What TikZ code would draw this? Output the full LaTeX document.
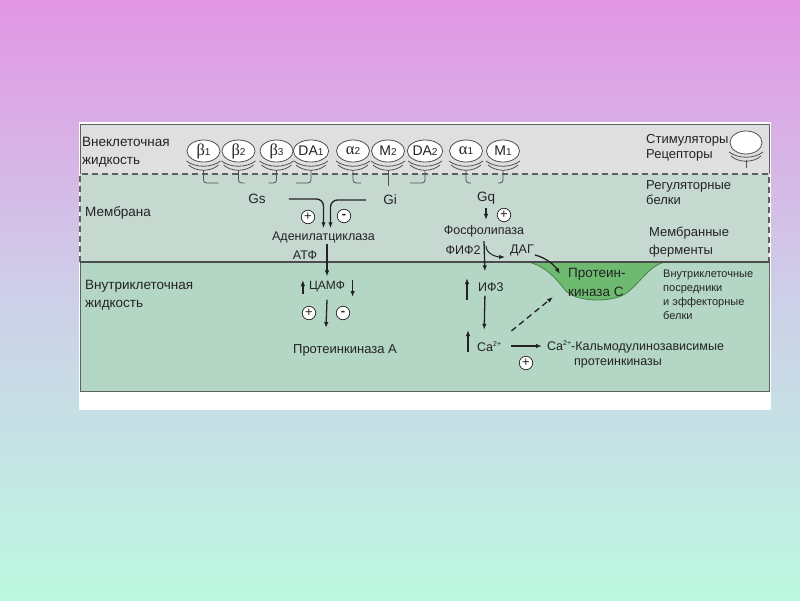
\documentclass[tikz,border=0pt]{standalone}
\usepackage{fontspec}
\setmainfont{Liberation Sans}
\newfontfamily\grk{Liberation Serif}
\usetikzlibrary{arrows.meta,positioning,shapes.geometric,calc}

\definecolor{bgtop}{RGB}{226,150,228}
\definecolor{bgmid}{RGB}{205,208,232}
\definecolor{bgbot}{RGB}{188,248,224}
\definecolor{band}{RGB}{223,223,223}
\definecolor{membr}{RGB}{198,217,208}
\definecolor{intra}{RGB}{180,214,196}
\definecolor{frame}{RGB}{95,95,95}
\definecolor{recline}{RGB}{80,80,80}
\definecolor{txt}{RGB}{35,35,35}
\definecolor{pkcgreen}{RGB}{110,186,112}
\definecolor{pkcline}{RGB}{70,135,72}

\pgfdeclareverticalshading{bgshade}{100bp}{color(0bp)=(bgbot); color(25bp)=(bgbot); color(50bp)=(bgmid); color(75bp)=(bgtop); color(100bp)=(bgtop)}

% receptor labels: big letter, small index
\newcommand{\grsub}[2]{{\grk\fontsize{16.5}{16}\selectfont #1}{\fontsize{10}{10}\selectfont #2}}
\newcommand{\lasub}[2]{{\fontsize{14}{14}\selectfont #1}{\fontsize{10}{10}\selectfont #2}}

\begin{document}
\begin{tikzpicture}[x=1pt, y=-1pt,
  lbl/.style={inner sep=0pt, align=left, anchor=west, text=txt, font=\fontsize{13.5}{18}\selectfont},
  inlbl/.style={inner sep=1pt, text=txt, font=\fontsize{12.5}{15}\selectfont},
  rec/.style={ellipse, draw=recline, fill=white, line width=0.8pt, minimum width=33pt, minimum height=22pt, inner sep=0pt, text=txt},
  cup/.style={draw=recline, line width=0.8pt},
  sign/.style={circle, draw=txt, fill=white, line width=0.7pt, minimum size=13.5pt, inner sep=0pt, text=txt, font=\fontsize{13}{13}\selectfont},
  arrow/.style={-{Latex[length=6pt,width=4.5pt]}, line width=1.3pt, draw=txt}
]
\useasboundingbox (0,0) rectangle (800,600);
\fill[shading=bgshade] (0,0) rectangle (800,600);

% panel
\fill[white] (79,122) rectangle (771,410);
\fill[band] (80,124) rectangle (769,174);
\draw[frame, line width=1pt] (80,174) -- (80,124) -- (769,124) -- (769,174);
\fill[membr] (80,174) rectangle (769,262);
\fill[intra] (80,262) rectangle (769,391);
\draw[frame, line width=1.2pt, dash pattern=on 6pt off 4pt] (80,262) -- (80,174) -- (769,174) -- (769,262);
\draw[frame, line width=1pt] (80,262) -- (80,391) -- (769,391) -- (769,262);

% protein kinase C in the membrane
\filldraw[fill=pkcgreen, draw=pkcline, line width=0.8pt] (528,262)
  .. controls (545,266) and (555,277) .. (565,290)
  .. controls (575,302) and (610,303) .. (625,294)
  .. controls (640,284) and (648,266) .. (665,262) -- cycle;
\draw[frame!80!black, line width=1.6pt] (80,262) -- (769,262);

% region labels
\node[lbl] (extra) at (82,152) {Внеклеточная\\жидкость};
\node[lbl] (memb) at (85,213) {Мембрана};
\node[lbl] (intr) at (85,295) {Внутриклеточная\\жидкость};
\node[lbl, font=\fontsize{13}{15}\selectfont] (stim) at (646,147.5) {Стимуляторы\\Рецепторы};
\node[lbl, font=\fontsize{13}{15}\selectfont] (regp) at (646,193) {Регуляторные\\белки};
\node[lbl, font=\fontsize{13}{18}\selectfont] (menz) at (649,242) {Мембранные\\ферменты};
\node[lbl, font=\fontsize{11}{14}\selectfont] (messg) at (663,294.5) {Внутриклеточные\\посредники\\и эффекторные\\белки};

% receptors
\node[rec] (b1) at (203.5,151) {\grsub{β}{1}};
\node[rec] (b2) at (238.5,151) {\grsub{β}{2}};
\node[rec] (b3) at (276.5,151) {\grsub{β}{3}};
\node[rec] (da1) at (311,151) {\lasub{DA}{1}};
\node[rec] (a2) at (353,151) {\grsub{α}{2}};
\node[rec] (m2) at (388,151) {\lasub{M}{2}};
\node[rec] (da2) at (425,151) {\lasub{DA}{2}};
\node[rec] (a1) at (466,151) {\grsub{α}{1}};
\node[rec] (m1) at (503,151) {\lasub{M}{1}};
\node[rec, minimum width=32pt, minimum height=23pt] (rleg) at (746,142.5) {};

\foreach \x in {203.5,238.5,276.5,311,353,388,425,466,503}{
  \draw[cup] (\x-17,161) .. controls (\x-8,168) and (\x+8,168) .. (\x+17,161);
  \draw[cup] (\x-15,165) .. controls (\x-7,172) and (\x+7,172) .. (\x+15,165);
}
\foreach \x/\d in {203.5/15,238.5/6,276.5/-8,311/-15,353/8,425/-15,466/5,503/-5}
  \draw[cup, rounded corners=3pt] (\x,170) -- (\x,183) -- (\x+\d,183);
\draw[cup] (388,170) -- (388,186);
\draw[cup] (729,152) .. controls (738,159) and (754,159) .. (763,152);
\draw[cup] (731,156) .. controls (739,163) and (753,163) .. (761,156);
\draw[cup] (746,160) -- (746,168);

% adenylate cyclase branch
\node[inlbl, font=\fontsize{13.5}{15}\selectfont] (gs) at (257,199) {Gs};
\node[inlbl, font=\fontsize{13.5}{15}\selectfont] (gi) at (390,200) {Gi};
\node[sign] (plus1) at (308,217) {+};
\node[sign] (minus1) at (344,216) {\textbf{-}};
\node[inlbl] (ac) at (323.5,237) {Аденилатциклаза};
\node[inlbl] (atp) at (305,255) {АТФ};
\node[inlbl, font=\fontsize{12}{15}\selectfont] (camp) at (327,287) {ЦАМФ};
\node[sign] (plus2) at (309,313) {+};
\node[sign] (minus2) at (343,313) {\textbf{-}};
\node[inlbl, font=\fontsize{13}{15}\selectfont] (pka) at (345,350) {Протеинкиназа А};

\draw[arrow, rounded corners=7pt] ([xshift=22pt]gs.east) -| ([yshift=2pt]ac.north);
\draw[arrow, rounded corners=7pt] ([xshift=-16pt]gi.west) -| ([xshift=7pt,yshift=2pt]ac.north);
\draw[arrow] ([xshift=3.5pt]ac.south) -- ([yshift=4pt]camp.north);
\draw[arrow] ([xshift=-5pt,yshift=-7pt]camp.west) -- ([xshift=-5pt,yshift=7pt]camp.west);
\draw[arrow] ([xshift=6.5pt,yshift=7pt]camp.east) -- ([xshift=6.5pt,yshift=-10pt]camp.east);
\draw[arrow] ([yshift=-6pt]camp.south) -- ([xshift=-19pt,yshift=15pt]pka.north);

% phospholipase branch
\node[inlbl, font=\fontsize{13.5}{15}\selectfont] (gq) at (486,198) {Gq};
\node[sign] (plus3) at (504,215) {+};
\node[inlbl] (plc) at (484,231) {Фосфолипаза};
\node[inlbl] (pip) at (463,250) {ФИФ2};
\node[inlbl] (dag) at (522,250) {ДАГ};
\node[inlbl, anchor=west] (ip3) at (477,287) {ИФ3};
\node[inlbl, anchor=west] (ca) at (476,347) {Ca\raisebox{5pt}{\fontsize{7}{7}\selectfont 2+}};
\node[sign] (plus4) at (526,363) {+};
\node[inlbl, anchor=west] (cam) at (546,347) {Ca\raisebox{5pt}{\fontsize{7}{7}\selectfont 2+}-Кальмодулинозависимые};
\node[inlbl, anchor=west] (camk) at (573,363) {протеинкиназы};
\node[lbl, font=\fontsize{13.5}{19}\selectfont] (pkc) at (568,282.5) {Протеин-\\киназа С};

\draw[arrow] ([yshift=-3pt]gq.south) -- ([xshift=2pt,yshift=4pt]plc.north);
\draw[arrow] ([yshift=-3pt]plc.south) -- ([xshift=-6pt,yshift=10pt]ip3.north);
\draw[arrow, line width=1pt] ([xshift=2pt,yshift=-8pt]plc.south) .. controls +(0,8) and +(-8,0) .. ([xshift=-4pt,yshift=-7pt]dag.west);
\draw[arrow] ([yshift=-5pt]dag.east) .. controls +(12,3) and +(-5,-8) .. ([xshift=-8pt,yshift=8.5pt]pkc.west);
\draw[arrow] ([xshift=-10pt,yshift=-13pt]ip3.west) -- ([xshift=-10pt,yshift=9pt]ip3.west);
\draw[arrow] ([xshift=-6pt,yshift=-3pt]ip3.south) -- ([xshift=-5pt,yshift=11pt]ca.north);
\draw[arrow] ([xshift=-8pt,yshift=-5pt]ca.west) -- ([xshift=-8pt,yshift=17pt]ca.west);
\draw[arrow] ([xshift=9pt,yshift=1pt]ca.east) -- ([xshift=-4pt,yshift=1pt]cam.west);
\draw[arrow, dash pattern=on 6pt off 4pt] ([xshift=9pt,yshift=16pt]ca.east) -- ([xshift=-15pt,yshift=-14.5pt]pkc.west);
\end{tikzpicture}
\end{document}
